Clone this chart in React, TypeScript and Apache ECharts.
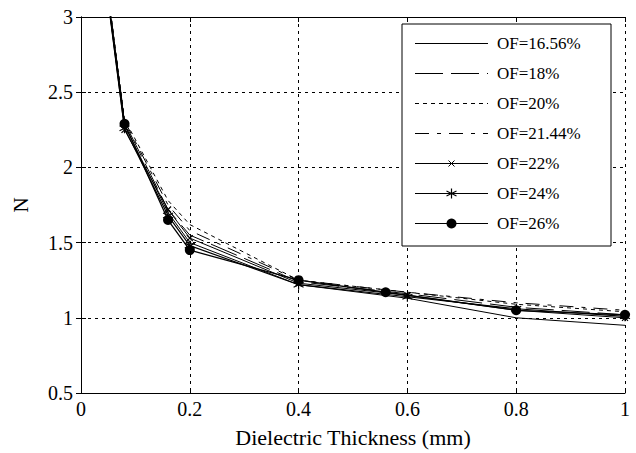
import React, { useEffect, useRef } from "react";
import * as echarts from "echarts";

// Dielectric thickness (mm) sampled for each overlap-factor curve
const thickness = [0.04, 0.08, 0.16, 0.2, 0.4, 0.6, 0.8, 1.0];
const thickness26 = [0.04, 0.08, 0.16, 0.2, 0.4, 0.56, 0.8, 1.0];

// N values per overlap factor
const nOF1656 = [3.4, 2.28, 1.7, 1.5, 1.22, 1.13, 1.0, 0.95];
const nOF18 = [3.42, 2.3, 1.72, 1.55, 1.24, 1.16, 1.07, 1.02];
const nOF20 = [3.45, 2.32, 1.78, 1.62, 1.25, 1.17, 1.09, 1.04];
const nOF2144 = [3.43, 2.31, 1.75, 1.58, 1.25, 1.17, 1.1, 1.05];
const nOF22 = [3.38, 2.25, 1.72, 1.53, 1.23, 1.15, 1.05, 1.0];
const nOF24 = [3.4, 2.26, 1.68, 1.48, 1.22, 1.14, 1.06, 1.01];
const nOF26 = [3.4, 2.29, 1.65, 1.45, 1.25, 1.17, 1.05, 1.02];

const legendLabels = [
  "OF=16.56%",
  "OF=18%",
  "OF=20%",
  "OF=21.44%",
  "OF=22%",
  "OF=24%",
  "OF=26%",
];

const xTicks = [0, 0.2, 0.4, 0.6, 0.8, 1];
const yTicks = [0.5, 1, 1.5, 2, 2.5, 3];

const FONT = "Liberation Serif";
const CROSS = "path://M0,0L10,10M10,0L0,10";
const STAR = "path://M5,0L5,10M0,2.5L10,7.5M0,7.5L10,2.5";

type Curve = {
  name: string;
  xs: number[];
  ys: number[];
  dash: number[] | "solid";
  symbol: string;
  symbolSize: number;
  width: number;
};

const curves: Curve[] = [
  { name: legendLabels[0], xs: thickness, ys: nOF1656, dash: "solid", symbol: "none", symbolSize: 0, width: 1 },
  { name: legendLabels[1], xs: thickness, ys: nOF18, dash: [28, 8], symbol: "none", symbolSize: 0, width: 1 },
  { name: legendLabels[2], xs: thickness, ys: nOF20, dash: [4, 4], symbol: "none", symbolSize: 0, width: 1 },
  { name: legendLabels[3], xs: thickness, ys: nOF2144, dash: [14, 8, 4, 8], symbol: "none", symbolSize: 0, width: 1 },
  { name: legendLabels[4], xs: thickness, ys: nOF22, dash: "solid", symbol: CROSS, symbolSize: 6, width: 1 },
  { name: legendLabels[5], xs: thickness, ys: nOF24, dash: "solid", symbol: STAR, symbolSize: 10, width: 1.2 },
  { name: legendLabels[6], xs: thickness26, ys: nOF26, dash: "solid", symbol: "circle", symbolSize: 10, width: 1.3 },
];

// Legend box geometry
const LEG = { x: 402, y: 24, w: 209, h: 222, lineX1: 415, lineX2: 488, textX: 497, row0: 43.5, rowGap: 30 };

function legendGraphics() {
  const els: any[] = [
    {
      type: "rect",
      shape: { x: LEG.x, y: LEG.y, width: LEG.w, height: LEG.h },
      style: { fill: "#fff", stroke: "#000", lineWidth: 1 },
      z: 100,
    },
  ];
  const mid = (LEG.lineX1 + LEG.lineX2) / 2;
  curves.forEach((c, i) => {
    const yc = LEG.row0 + i * LEG.rowGap;
    els.push({
      type: "line",
      shape: { x1: LEG.lineX1, y1: yc, x2: LEG.lineX2, y2: yc },
      style: {
        stroke: "#000",
        lineWidth: 1,
        lineDash: c.dash === "solid" ? null : c.dash,
      },
      z: 101,
    });
    if (c.symbol === CROSS) {
      const r = 3;
      els.push(
        { type: "line", shape: { x1: mid - r, y1: yc - r, x2: mid + r, y2: yc + r }, style: { stroke: "#000", lineWidth: 1 }, z: 101 },
        { type: "line", shape: { x1: mid + r, y1: yc - r, x2: mid - r, y2: yc + r }, style: { stroke: "#000", lineWidth: 1 }, z: 101 }
      );
    } else if (c.symbol === STAR) {
      const r = 5;
      els.push(
        { type: "line", shape: { x1: mid, y1: yc - r, x2: mid, y2: yc + r }, style: { stroke: "#000", lineWidth: 1.2 }, z: 101 },
        { type: "line", shape: { x1: mid - r, y1: yc - 2.5, x2: mid + r, y2: yc + 2.5 }, style: { stroke: "#000", lineWidth: 1.2 }, z: 101 },
        { type: "line", shape: { x1: mid - r, y1: yc + 2.5, x2: mid + r, y2: yc - 2.5 }, style: { stroke: "#000", lineWidth: 1.2 }, z: 101 }
      );
    } else if (c.symbol === "circle") {
      els.push({ type: "circle", shape: { cx: mid, cy: yc, r: 5 }, style: { fill: "#000" }, z: 101 });
    }
    els.push({
      type: "text",
      x: LEG.textX,
      y: yc,
      style: {
        text: c.name,
        fill: "#000",
        font: `17px "${FONT}"`,
        verticalAlign: "middle",
        align: "left",
      },
      z: 101,
    });
  });
  return els;
}

export default function App() {
  const ref = useRef<HTMLDivElement>(null);

  useEffect(() => {
    if (!ref.current) return;
    const chart = echarts.init(ref.current, undefined, { renderer: "svg" });

    const axisLine = { show: true, lineStyle: { color: "#000", width: 1 } };
    const dotted = { show: true, lineStyle: { color: "#000", width: 1, type: [3, 4] as any } };
    const tick = { show: true, inside: true, length: 5, lineStyle: { color: "#000" } };
    const label = { color: "#000", fontFamily: FONT, fontSize: 20 };

    chart.setOption({
      animation: false,
      backgroundColor: "#fff",
      grid: { left: 81, right: 11, top: 17, bottom: 60, containLabel: false },
      xAxis: [
        {
          type: "value",
          min: xTicks[0],
          max: xTicks[xTicks.length - 1],
          interval: 0.2,
          name: "Dielectric Thickness (mm)",
          nameLocation: "middle",
          nameGap: 33,
          nameTextStyle: { color: "#000", fontFamily: FONT, fontSize: 22 },
          axisLine,
          axisTick: tick,
          axisLabel: { ...label, margin: 6 },
          splitLine: dotted,
        },
        {
          type: "value",
          position: "top",
          min: xTicks[0],
          max: xTicks[xTicks.length - 1],
          interval: 0.2,
          axisLine,
          axisTick: tick,
          axisLabel: { show: false },
          splitLine: { show: false },
        },
      ],
      yAxis: [
        {
          type: "value",
          min: yTicks[0],
          max: yTicks[yTicks.length - 1],
          interval: 0.5,
          name: "N",
          nameLocation: "middle",
          nameGap: 50,
          nameTextStyle: { color: "#000", fontFamily: FONT, fontSize: 21 },
          axisLine,
          axisTick: tick,
          axisLabel: { ...label, margin: 8 },
          splitLine: dotted,
        },
        {
          type: "value",
          position: "right",
          min: yTicks[0],
          max: yTicks[yTicks.length - 1],
          interval: 0.5,
          axisLine,
          axisTick: tick,
          axisLabel: { show: false },
          splitLine: { show: false },
        },
      ],
      series: curves.map((c) => ({
        type: "line",
        name: c.name,
        xAxisIndex: 0,
        yAxisIndex: 0,
        data: c.xs.map((x, i) => [x, c.ys[i]]),
        clip: true,
        symbol: c.symbol,
        symbolSize: c.symbolSize,
        showSymbol: c.symbol !== "none",
        lineStyle: { color: "#000", width: c.width, type: c.dash },
        itemStyle: { color: "#000", borderColor: "#000", borderWidth: c.symbol === "circle" ? 0 : 1.2 },
        emphasis: { disabled: true },
      })),
      graphic: legendGraphics(),
    });

    return () => chart.dispose();
  }, []);

  return (
    <div
      ref={ref}
      style={{ position: "absolute", left: 0, top: 0, width: 636, height: 453 }}
    />
  );
}
